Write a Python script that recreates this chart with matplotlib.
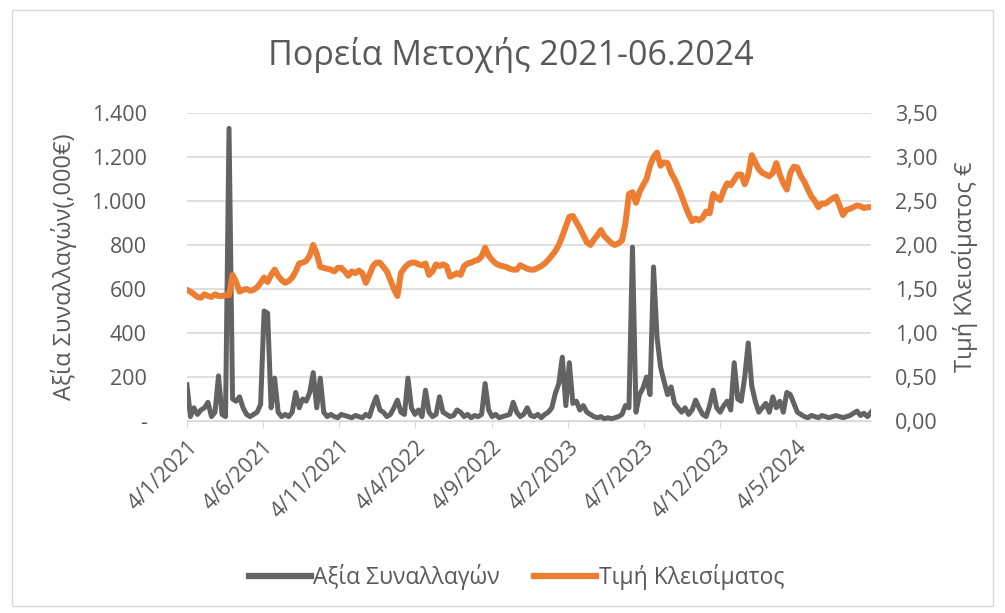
import pandas as pd
import numpy as np
import matplotlib.pyplot as plt
from matplotlib.lines import Line2D
from matplotlib.patches import Rectangle

plt.rcParams['font.family'] = ['Open Sans', 'DejaVu Sans']

# weekly closes, 4/1/2021 .. 30/9/2024
dates = pd.date_range('2021-01-04', periods=196, freq='7D')

price = [
    1.49, 1.47, 1.44, 1.41, 1.40, 1.44, 1.42, 1.41, 1.44, 1.42, 1.42, 1.43, 1.43, 1.66,
    1.58, 1.47, 1.49, 1.50, 1.48, 1.49, 1.52, 1.57, 1.63, 1.58, 1.66, 1.72, 1.65, 1.60,
    1.57, 1.59, 1.63, 1.70, 1.79, 1.80, 1.82, 1.88, 2.00, 1.90, 1.75, 1.74, 1.73, 1.72,
    1.70, 1.74, 1.74, 1.70, 1.65, 1.70, 1.68, 1.71, 1.68, 1.57, 1.66, 1.76, 1.80, 1.80,
    1.75, 1.70, 1.60, 1.50, 1.42, 1.68, 1.74, 1.78, 1.80, 1.80, 1.78, 1.77, 1.79, 1.66,
    1.70, 1.78, 1.76, 1.78, 1.76, 1.64, 1.66, 1.68, 1.66, 1.76, 1.79, 1.80, 1.82, 1.83,
    1.87, 1.97, 1.88, 1.83, 1.79, 1.77, 1.76, 1.75, 1.73, 1.72, 1.72, 1.77, 1.75, 1.73,
    1.72, 1.72, 1.74, 1.76, 1.79, 1.83, 1.88, 1.93, 2.00, 2.10, 2.21, 2.32, 2.33, 2.26,
    2.19, 2.11, 2.03, 2.00, 2.06, 2.11, 2.17, 2.10, 2.06, 2.02, 2.00, 2.02, 2.05, 2.25,
    2.58, 2.60, 2.48, 2.60, 2.68, 2.75, 2.90, 3.00, 3.05, 2.90, 2.94, 2.93, 2.82, 2.75,
    2.66, 2.56, 2.45, 2.35, 2.27, 2.30, 2.28, 2.31, 2.38, 2.36, 2.58, 2.54, 2.51, 2.62,
    2.70, 2.68, 2.74, 2.80, 2.80, 2.69, 2.80, 3.02, 2.94, 2.86, 2.82, 2.80, 2.78, 2.82,
    2.93, 2.80, 2.70, 2.63, 2.82, 2.89, 2.88, 2.78, 2.72, 2.63, 2.55, 2.50, 2.43, 2.47,
    2.47, 2.50, 2.53, 2.55, 2.45, 2.34, 2.40, 2.41, 2.43, 2.45, 2.44, 2.42, 2.43, 2.43,
]

# trading value, thousand euro
volume = [
    165, 20, 60, 30, 50, 60, 85, 20, 40, 205, 30, 20, 1330, 100,
    90, 110, 60, 30, 20, 30, 40, 75, 500, 490, 60, 195, 40, 20,
    30, 20, 40, 130, 60, 100, 90, 130, 220, 60, 195, 40, 20, 30,
    20, 15, 30, 25, 20, 15, 25, 20, 15, 30, 20, 70, 110, 50,
    40, 20, 30, 60, 95, 40, 30, 195, 60, 30, 50, 20, 140, 40,
    20, 30, 110, 40, 30, 20, 25, 50, 40, 20, 30, 15, 25, 20,
    30, 170, 50, 20, 30, 15, 20, 25, 30, 85, 40, 20, 30, 60,
    25, 20, 30, 15, 30, 40, 60, 125, 170, 290, 70, 265, 80, 90,
    50, 70, 40, 30, 20, 15, 20, 10, 15, 10, 15, 20, 30, 70,
    60, 790, 40, 120, 150, 200, 120, 700, 380, 245, 180, 120, 155, 80,
    60, 40, 60, 30, 50, 95, 60, 30, 20, 70, 140, 60, 40, 70,
    90, 50, 265, 100, 90, 200, 355, 160, 90, 40, 60, 80, 40, 110,
    60, 90, 40, 130, 120, 80, 40, 30, 20, 15, 25, 20, 15, 25,
    20, 15, 20, 25, 20, 15, 20, 25, 35, 45, 25, 35, 20, 40,
]

tick_dates = pd.date_range('2021-01-04', periods=9, freq=pd.DateOffset(months=5))
left_ticks = [0, 200, 400, 600, 800, 1000, 1200, 1400]
left_labels = ['-', '200', '400', '600', '800', '1.000', '1.200', '1.400']
right_ticks = [0, 0.5, 1.0, 1.5, 2.0, 2.5, 3.0, 3.5]
right_labels = ['0,00', '0,50', '1,00', '1,50', '2,00', '2,50', '3,00', '3,50']

txt = '#595959'
grid = '#d9d9d9'
gray = '#636363'
orange = '#ED7D31'

fig = plt.figure(figsize=(10.05, 6.13), dpi=100)
fig.patches.append(Rectangle((0.012, 0.012), 0.976, 0.972, transform=fig.transFigure,
                             fill=False, edgecolor='#d9d9d9', linewidth=1))
ax = fig.add_axes([0.186, 0.3132, 0.6807, 0.5025])
ax2 = ax.twinx()

ax.plot(dates, volume, color=gray, linewidth=3.6, solid_joinstyle='round')
ax2.plot(dates, price, color=orange, linewidth=4.3, solid_joinstyle='round')

ax.set_xlim(dates[0], dates[-1])
ax.set_ylim(0, 1400)
ax2.set_ylim(0, 3.5)

ax.set_yticks(left_ticks)
ax.set_yticklabels(left_labels)
ax2.set_yticks(right_ticks)
ax2.set_yticklabels(right_labels)
ax.yaxis.grid(True, color=grid, linewidth=1.2)
ax.set_axisbelow(True)

ax.set_xticks(tick_dates)
ax.set_xticklabels([f'{d.day}/{d.month}/{d.year}' for d in tick_dates],
                   rotation=45, ha='right', rotation_mode='anchor')

for a in (ax, ax2):
    for s in a.spines.values():
        s.set_visible(False)
    a.tick_params(axis='y', length=0, labelsize=15.5, labelcolor=txt)
ax.spines['bottom'].set_visible(True)
ax.spines['bottom'].set_color(grid)
ax.tick_params(axis='x', length=5, color=grid, labelsize=15.5, labelcolor=txt, pad=6)
ax.tick_params(axis='y', pad=29)
ax2.tick_params(axis='y', pad=17)

ax.yaxis.set_label_coords(-0.16, 0.5)
ax.set_ylabel('Αξία Συναλλαγών(,000€)', fontsize=17, color=txt)
ax2.set_ylabel('Τιμή Κλεισίματος €', fontsize=17, color=txt, rotation=90)
ax2.yaxis.set_label_coords(1.118, 0.5)

fig.text(0.508, 0.91, 'Πορεία Μετοχής 2021-06.2024', ha='center', va='center',
         fontsize=24.5, color=txt)

handles = [Line2D([0], [0], color=gray, linewidth=4.5),
           Line2D([0], [0], color=orange, linewidth=4.5)]
fig.legend(handles, ['Αξία Συναλλαγών', 'Τιμή Κλεισίματος'], loc='center',
           bbox_to_anchor=(0.514, 0.058), ncol=2, frameon=False, fontsize=16.5,
           labelcolor=txt, handlelength=2.7, handletextpad=0.1, columnspacing=1.5)

fig.savefig('out.png', dpi=100)
